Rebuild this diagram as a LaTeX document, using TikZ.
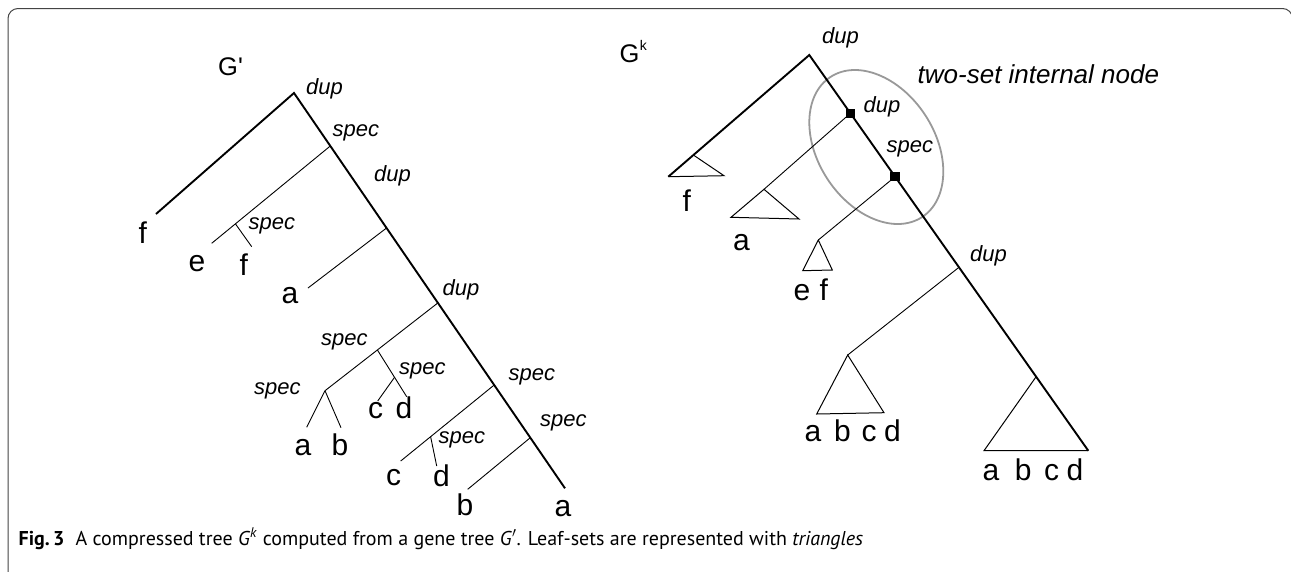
\documentclass[tikz,border=0pt]{standalone}
\usepackage{fontspec}
\setmainfont{Liberation Sans}
\newfontfamily\capfont{PT Sans}
\usetikzlibrary{calc}
\definecolor{ellcol}{HTML}{999999}
\definecolor{framecol}{HTML}{444444}
\begin{document}
\begin{tikzpicture}[x=1pt,y=-1pt,
  mainln/.style={line width=1.9pt},
  brln/.style={line width=0.9pt},
  triln/.style={line width=1pt, line join=miter},
  leaf/.style={anchor=base west, inner sep=0pt, font=\fontsize{30}{36}\selectfont},
  evt/.style={anchor=base west, inner sep=0pt, font=\fontsize{22}{26}\selectfont\itshape},
  ttl/.style={anchor=base west, inner sep=0pt, font=\fontsize{25.5}{30}\selectfont},
  sq/.style={fill=black, draw=none, minimum size=9.5pt, inner sep=0pt}]
\useasboundingbox (0,0) rectangle (1291,571);
\clip (0,0) rectangle (1291,571);
% frame
\draw[framecol, line width=1pt, rounded corners=10pt] (8,640) -- (8,8.5) -- (1292.5,8.5) -- (1292.5,640);

% ---------- left tree G'
\coordinate (r) at (294,93);
\coordinate (aEnd) at (565,488.3);
\coordinate (fL) at (156,214);
\coordinate (s1) at ($(r)!0.134!(aEnd)$);
\coordinate (eE) at (211.7,243.3);
\coordinate (s1a) at ($(s1)!0.8!(eE)$);
\coordinate (fE) at (251.7,246.7);
\coordinate (d2) at ($(r)!0.3415!(aEnd)$);
\coordinate (aE2) at (308,288);
\coordinate (d3) at ($(r)!0.531!(aEnd)$);
\coordinate (sab) at (325,390.7);
\coordinate (sp) at ($(d3)!0.536!(sab)$);
\coordinate (aE3) at (306.7,427.3);
\coordinate (bE3) at (341,427.7);
\coordinate (dE) at (406.7,396.7);
\coordinate (scd) at ($(sp)!0.585!(dE)$);
\coordinate (cE) at (377.7,401);
\coordinate (s5) at ($(r)!0.7387!(aEnd)$);
\coordinate (cE2) at (400.7,461);
\coordinate (scd2) at ($(s5)!0.68!(cE2)$);
\coordinate (dE2) at (436.7,466);
\coordinate (s6) at ($(r)!0.872!(aEnd)$);
\coordinate (bE4) at (467.7,489.3);

\draw[mainln] (fL) -- (r) -- (aEnd);
\draw[brln] (s1) -- (eE);
\draw[brln] (s1a) -- (fE);
\draw[brln] (d2) -- (aE2);
\draw[brln] (d3) -- (sab);
\draw[brln] (sab) -- (aE3);
\draw[brln] (sab) -- (bE3);
\draw[brln] (sp) -- (dE);
\draw[brln] (scd) -- (cE);
\draw[brln] (s5) -- (cE2);
\draw[brln] (scd2) -- (dE2);
\draw[brln] (s6) -- (bE4);

\node[ttl] (tG1) at (218,75) {G\textquotesingle};
\node[evt] (l1) at (306,94) {dup};
\node[evt] (l2) at (332.5,136) {spec};
\node[evt] (l3) at (374,181.7) {dup};
\node[evt] (l4) at (248.5,229.3) {spec};
\node[leaf] (x1) at (138.5,243.3) {f};
\node[leaf] (x2) at (188.5,271.7) {e};
\node[leaf] (x3) at (239.5,275) {f};
\node[leaf] (x4) at (281.5,303.3) {a};
\node[evt] (l5) at (442.5,295) {dup};
\node[evt] (l6) at (321,345) {spec};
\node[evt] (l7) at (399,374) {spec};
\node[evt] (l8) at (254,394) {spec};
\node[leaf] (x5) at (368,418.3) {c};
\node[leaf] (x6) at (395.5,418.3) {d};
\node[leaf] (x7) at (294.5,455) {a};
\node[leaf] (x8) at (331.5,455) {b};
\node[evt] (l9) at (508.5,380) {spec};
\node[evt] (l10) at (438.5,443.3) {spec};
\node[evt] (l11) at (540,426.7) {spec};
\node[leaf] (x9) at (386,485) {c};
\node[leaf] (x10) at (433,486.7) {d};
\node[leaf] (x11) at (456.5,515) {b};
\node[leaf] (x12) at (554.5,516.7) {a};

% ---------- right tree G^k
\coordinate (R) at (809.3,55);
\coordinate (E) at (1088.3,450.7);
\coordinate (F) at (668.3,176.7);
\coordinate (Ft) at ($(R)!0.822!(F)$);
\coordinate (Fr) at (724,175.7);
\coordinate (Q1) at ($(R)!0.1473!(E)$);
\coordinate (At) at (764,189.3);
\coordinate (Al) at (731,217.3);
\coordinate (Ar) at (799,219);
\coordinate (Q2) at ($(R)!0.3076!(E)$);
\coordinate (EFt) at (818.3,240);
\coordinate (EFl) at (802.7,270.7);
\coordinate (EFr) at (832.3,270);
\coordinate (D) at ($(R)!0.5365!(E)$);
\coordinate (Tt) at (847.7,355);
\coordinate (Tl) at (816.7,414);
\coordinate (Tr) at (884,412.7);
\coordinate (Bt) at ($(R)!0.813!(E)$);
\coordinate (Bl) at (984,450.7);

\draw[ellcol, line width=1.8pt, shift={(876.3,147)}, rotate=-56.8] (0,0) ellipse [x radius=83.7pt, y radius=58.4pt];

\draw[mainln] (F) -- (R) -- (E);
\draw[triln] (Ft) -- (Fr) -- (F);
\draw[brln] (Q1) -- (At);
\draw[triln] (At) -- (Al) -- (Ar) -- cycle;
\draw[brln] (Q2) -- (EFt);
\draw[triln] (EFt) -- (EFl) -- (EFr) -- cycle;
\draw[brln] (D) -- (Tt);
\draw[triln] (Tt) -- (Tl) -- (Tr) -- cycle;
\draw[triln] (Bt) -- (Bl) -- (E);

\node[sq] (q1) at (Q1) {};
\node[sq] (q2) at (Q2) {};

\node[ttl] (tG2) at (619.5,62.7) {G\hspace{0.3pt}\raisebox{12pt}{\fontsize{14}{16}\selectfont k}};
\node[evt] (m1) at (822,43.3) {dup};
\node[anchor=base west, inner sep=0pt, font=\fontsize{26}{30}\selectfont\itshape] (two) at (917.5,83.3) {two-set internal node};
\node[evt] (m2) at (863.5,112.7) {dup};
\node[evt] (m3) at (886.5,152.7) {spec};
\node[leaf] (y1) at (682.5,211.7) {f};
\node[leaf] (y2) at (733,250) {a};
\node[leaf] (y3) at (793.5,300) {e};
\node[leaf] (y4) at (819.5,300) {f};
\node[evt] (m4) at (970,261.7) {dup};
\node[leaf] (z1) at (804.5,441.7) {a};
\node[leaf] (z2) at (834,441.7) {b};
\node[leaf] (z3) at (861.5,441.7) {c};
\node[leaf] (z4) at (884,441.7) {d};
\node[leaf] (w1) at (982.5,480.7) {a};
\node[leaf] (w2) at (1014.7,480.7) {b};
\node[leaf] (w3) at (1043.8,480.7) {c};
\node[leaf] (w4) at (1066.3,480.7) {d};

% caption
\node[anchor=base west, inner sep=0pt, font=\capfont\fontsize{20}{24}\selectfont] (cap) at (18.5,545)
 {\textbf{Fig.\,3}\hspace{0.55em}A compressed tree \textit{G}\textsuperscript{\textit{k}} computed from a gene tree \textit{G}$'$. Leaf-sets are represented with \textit{triangles}};
\end{tikzpicture}
\end{document}
